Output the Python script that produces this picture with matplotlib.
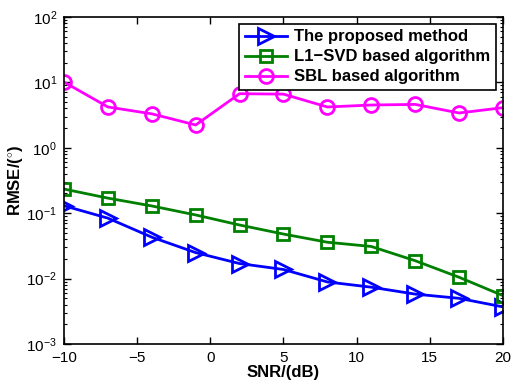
import matplotlib
matplotlib.use("Agg")
import matplotlib.pyplot as plt
from matplotlib.ticker import LogLocator, NullFormatter

plt.rcParams['font.family'] = ['Liberation Sans', 'DejaVu Sans']
plt.rcParams['mathtext.fontset'] = 'custom'
plt.rcParams['mathtext.rm'] = 'Liberation Sans'
plt.rcParams['mathtext.it'] = 'Liberation Sans:italic'
plt.rcParams['mathtext.bf'] = 'Liberation Sans:bold'

# SNR points (dB)
snr = [-10, -7, -4, -1, 2, 5, 8, 11, 14, 17, 20]

# RMSE values
proposed = [0.13, 0.084, 0.043, 0.025, 0.017, 0.0138, 0.0089, 0.0074, 0.0058, 0.0050, 0.0037]
l1svd = [0.234, 0.17, 0.129, 0.094, 0.066, 0.048, 0.036, 0.031, 0.0188, 0.0105, 0.0055]
sbl = [10.1, 4.2, 3.3, 2.23, 6.7, 6.6, 4.2, 4.5, 4.6, 3.4, 4.1]

labels = ['The proposed method', 'L1\u2212SVD based algorithm', 'SBL based algorithm']

fig = plt.figure(figsize=(5.14, 3.84), dpi=100)
ax = fig.add_axes([0.1245, 0.104, 0.854, 0.852])

ax.semilogy(snr, proposed, color=(0, 0, 1), marker='>', markersize=11,
            markerfacecolor='none', markeredgewidth=2, linewidth=2, label=labels[0])
ax.semilogy(snr, l1svd, color=(0, 0.5, 0), marker='s', markersize=8,
            markerfacecolor='none', markeredgewidth=2, linewidth=2, label=labels[1])
ax.semilogy(snr, sbl, color=(1, 0, 1), marker='o', markersize=10,
            markerfacecolor='none', markeredgewidth=2, linewidth=2, label=labels[2])

ax.set_xlim(-10, 20)
ax.set_ylim(1e-3, 1e2)
ax.set_xticks([-10, -5, 0, 5, 10, 15, 20])
ax.set_xticklabels(['\u221210', '\u22125', '0', '5', '10', '15', '20'])
ax.yaxis.set_major_locator(LogLocator(base=10, numticks=10))
ax.yaxis.set_minor_locator(LogLocator(base=10, subs=range(2, 10), numticks=10))
ax.yaxis.set_minor_formatter(NullFormatter())

ax.tick_params(which='both', direction='in', top=True, right=True, labelsize=11)
ax.tick_params(which='major', length=5, width=1)
ax.tick_params(which='minor', length=2.5, width=0.8)
ax.tick_params(axis='y', pad=5)
ax.tick_params(axis='x', pad=5)
for s in ax.spines.values():
    s.set_linewidth(1.2)

ax.set_xlabel('SNR/(dB)', fontsize=12, fontweight='bold', labelpad=0)
ax.set_ylabel('RMSE/($^{\\circ}$)', fontsize=12, fontweight='bold', labelpad=1)

leg = ax.legend(loc='upper right', fancybox=False, edgecolor='black',
                prop={'weight': 'bold', 'size': 12}, handlelength=2.5,
                borderpad=0.35, labelspacing=0.3, handletextpad=0.45,
                borderaxespad=0.4, framealpha=1)
leg.get_frame().set_linewidth(1.2)

fig.savefig('out.png', dpi=100)
